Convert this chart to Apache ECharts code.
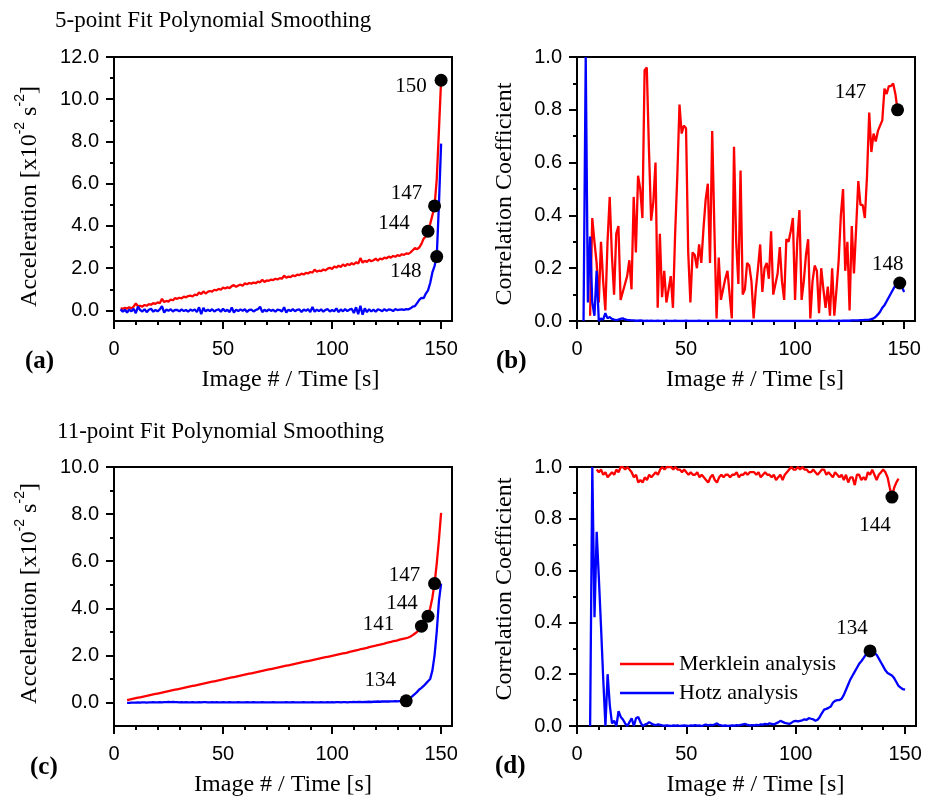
<!DOCTYPE html>
<html><head><meta charset="utf-8">
<script src="https://cdn.jsdelivr.net/npm/echarts@6/dist/echarts.min.js"></script>
<style>html,body{margin:0;padding:0;background:#fff}#c{width:925px;height:798px}</style>
</head><body><div id="c"></div>
<script>
// ---------- DATA ----------
// Panel (a): 5-point fit, acceleration
const aStart = 3;
const aMerklein = [0.10,0.08,0.12,0.09,0.15,0.10,0.18,0.33,0.20,0.22,
 0.18,0.26,0.22,0.30,0.27,0.35,0.31,0.38,0.34,0.55,
 0.40,0.45,0.42,0.52,0.48,0.58,0.55,0.60,0.57,0.65,
 0.62,0.68,0.70,0.66,0.75,0.72,0.85,0.78,0.90,0.80,
 0.88,0.92,0.89,0.98,0.95,1.02,0.98,1.08,1.04,1.10,
 1.06,1.15,1.20,1.12,1.18,1.22,1.17,1.28,1.24,1.30,
 1.27,1.32,1.29,1.36,1.33,1.45,1.35,1.42,1.40,1.46,
 1.44,1.50,1.47,1.53,1.50,1.65,1.55,1.60,1.58,1.66,
 1.62,1.70,1.67,1.74,1.70,1.78,1.75,1.82,1.79,1.93,
 1.84,1.88,1.86,1.94,1.90,1.98,2.02,1.96,2.08,2.03,
 2.12,2.06,2.18,2.10,2.20,2.15,2.24,2.18,2.28,2.22,
 2.48,2.26,2.35,2.30,2.40,2.33,2.38,2.45,2.36,2.46,
 2.42,2.50,2.47,2.55,2.50,2.58,2.54,2.62,2.58,2.66,
 2.63,2.70,2.68,2.75,2.85,2.95,2.90,2.98,3.15,3.40,
 3.50,3.75,4.10,4.50,4.95,6.20,8.50,10.90];
const aHotz = [0.05,-0.06,0.03,-0.10,0.04,-0.04,0.08,-0.13,0.18,0.02,
 -0.05,0.06,-0.08,0.03,0.08,-0.06,0.02,-0.04,0.05,0.20,
 -0.10,0.04,-0.02,0.06,-0.05,0.03,0.02,-0.04,0.05,-0.03,
 0.02,-0.06,0.04,-0.02,0.05,-0.08,0.15,-0.18,0.12,-0.05,
 0.04,-0.03,0.06,-0.05,0.02,0.05,-0.06,0.08,-0.04,0.03,
 -0.08,0.14,-0.10,0.04,-0.03,0.05,-0.02,0.06,-0.07,0.03,
 0.04,-0.05,0.02,0.06,0.18,-0.08,0.03,-0.04,0.05,-0.02,
 0.03,-0.06,0.04,0.02,-0.05,0.15,-0.10,0.04,-0.03,0.06,
 -0.04,0.03,0.05,-0.07,0.04,-0.02,0.06,-0.08,0.16,-0.06,
 0.04,-0.03,0.05,-0.06,0.03,0.06,-0.05,0.02,-0.04,0.10,
 -0.08,0.05,-0.04,0.06,-0.03,0.04,0.08,-0.12,0.15,-0.18,
 0.22,-0.20,0.10,-0.08,0.06,-0.05,0.04,-0.06,0.05,0.02,
 -0.04,0.06,-0.02,0.05,0.03,-0.03,0.06,0.02,0.04,0.05,
 0.03,0.06,0.05,0.10,0.18,0.20,0.35,0.50,0.60,0.58,
 0.80,0.95,1.30,1.80,2.10,2.55,5.00,7.90];

// Panel (b): 5-point fit, correlation coefficient
const bMerkleinStart = 6;
const bMerklein = [0.02,0.39,0.30,0.22,0.07,0.30,0.15,0.04,0.30,0.47,
 0.25,0.10,0.33,0.36,0.08,0.11,0.14,0.17,0.23,0.12,
 0.47,0.26,0.55,0.50,0.39,0.95,0.96,0.65,0.38,0.45,
 0.60,0.05,0.33,0.09,0.19,0.07,0.12,0.17,0.05,0.33,
 0.55,0.82,0.71,0.74,0.73,0.26,0.07,0.26,0.25,0.20,
 0.29,0.22,0.35,0.46,0.52,0.22,0.72,0.35,0.01,0.24,
 0.08,0.12,0.16,0.19,0.10,0.01,0.66,0.30,0.14,0.57,
 0.10,0.12,0.22,0.21,0.15,0.01,0.12,0.20,0.29,0.11,
 0.20,0.22,0.16,0.34,0.10,0.14,0.18,0.28,0.15,0.08,
 0.31,0.30,0.34,0.39,0.08,0.30,0.42,0.08,0.15,0.25,
 0.31,0.01,0.15,0.21,0.19,0.03,0.20,0.12,0.05,0.13,
 0.02,0.20,0.02,0.12,0.23,0.40,0.50,0.19,0.30,0.04,
 0.36,0.18,0.35,0.53,0.44,0.44,0.39,0.55,0.79,0.64,
 0.71,0.68,0.72,0.74,0.76,0.88,0.86,0.89,0.89,0.90,
 0.86,0.80];
const bHotzStart = 3;
const bHotz = [0,1.0,0.07,0.32,0.07,0.02,0.19,0,0.01,0.005,
 0.03,0.01,0.015,0.008,0.005,0.003,0.005,0.008,0.01,0.006,
 0.004,0.003,0.002,0.002,0.001,0.001,0.002,0.001,0,0.001,
 0,0.001,0,0,0.001,0,0,0,0.001,0,
 0,0,0.001,0,0,0,0,0.001,0,0,
 0,0,0,0.001,0,0,0,0,0,0,
 0,0,0,0,0.001,0,0,0,0,0,
 0,0,0,0,0,0,0,0,0,0,
 0,0,0,0,0,0,0,0,0,0,
 0,0,0,0,0,0,0,0,0,0,
 0,0,0,0,0,0,0,0,0.001,0,
 0,0,0,0.001,0,0,0,0.001,0,0.001,
 0.001,0.001,0.001,0.002,0.002,0.002,0.002,0.003,0.003,0.004,
 0.004,0.005,0.007,0.01,0.016,0.025,0.035,0.05,0.06,0.075,
 0.09,0.105,0.12,0.135,0.14,0.144,0.13,0.11];

// Panel (c): 11-point fit, acceleration
const cStart = 6;
const cMerklein = [0.10,0.12,0.14,0.16,0.18,0.20,0.22,0.24,0.26,0.28,
 0.30,0.32,0.34,0.36,0.38,0.40,0.42,0.44,0.46,0.48,
 0.50,0.52,0.54,0.56,0.58,0.60,0.62,0.64,0.66,0.68,
 0.70,0.72,0.74,0.76,0.78,0.80,0.82,0.84,0.86,0.88,
 0.90,0.92,0.94,0.96,0.98,1.00,1.02,1.04,1.06,1.08,
 1.10,1.12,1.14,1.16,1.18,1.20,1.22,1.24,1.26,1.28,
 1.30,1.32,1.34,1.36,1.38,1.40,1.42,1.44,1.46,1.48,
 1.50,1.52,1.54,1.56,1.58,1.60,1.62,1.64,1.66,1.68,
 1.70,1.72,1.74,1.76,1.78,1.80,1.82,1.84,1.86,1.88,
 1.90,1.92,1.94,1.96,1.98,2.00,2.02,2.04,2.06,2.08,
 2.10,2.12,2.15,2.17,2.19,2.21,2.23,2.26,2.28,2.30,
 2.32,2.35,2.37,2.39,2.41,2.44,2.46,2.48,2.50,2.53,
 2.55,2.57,2.60,2.62,2.64,2.67,2.69,2.71,2.73,2.76,
 2.80,2.86,2.93,3.00,3.10,3.24,3.36,3.50,3.66,4.00,
 4.45,5.05,5.90,6.90,8.05];
const cHotz = [-0.02,-0.02,-0.01,-0.01,-0.01,0.00,-0.01,0.00,0.00,-0.01,
 0.00,0.00,0.01,0.00,0.00,0.01,0.00,0.01,0.01,0.02,
 0.01,0.02,0.01,0.01,0.00,0.01,0.00,0.01,0.00,0.00,
 0.01,0.00,0.00,0.01,0.00,0.01,0.01,0.00,0.00,0.01,
 0.00,0.01,0.00,0.00,0.01,0.00,0.00,0.01,0.00,0.00,
 0.00,0.01,0.00,0.00,0.00,0.01,0.00,0.00,0.01,0.00,
 0.00,0.00,0.01,0.00,0.00,0.00,0.00,0.01,0.00,0.00,
 0.00,0.00,0.00,0.01,0.00,0.00,0.01,0.00,0.00,0.00,
 0.00,0.01,0.00,0.00,0.00,0.01,0.00,0.00,0.00,0.01,
 0.00,0.00,0.01,0.00,0.01,0.00,0.01,0.01,0.00,0.01,
 0.01,0.00,0.01,0.01,0.02,0.01,0.02,0.02,0.01,0.02,
 0.02,0.03,0.02,0.03,0.03,0.04,0.03,0.04,0.04,0.05,
 0.04,0.05,0.05,0.06,0.05,0.06,0.06,0.06,0.07,0.12,
 0.20,0.28,0.36,0.45,0.55,0.62,0.70,0.80,0.90,1.00,
 1.35,2.00,3.00,4.30,5.05];

// Panel (d): 11-point fit, correlation coefficient
const dMerkleinStart = 9;
const dMerklein = [0.99,0.98,0.99,0.97,0.98,0.96,0.97,0.98,0.97,0.99,
 0.98,1.00,1.00,0.99,1.00,0.99,0.98,0.96,0.97,0.94,
 0.95,0.94,0.96,0.95,0.97,0.96,0.97,0.98,0.97,0.99,
 1.00,0.99,1.00,1.00,1.00,0.99,1.00,0.99,0.99,0.98,
 0.99,0.98,0.97,0.98,0.97,0.97,0.98,0.96,0.97,0.96,
 0.95,0.94,0.96,0.97,0.95,0.94,0.96,0.97,0.96,0.97,
 0.97,0.96,0.97,0.97,0.98,0.96,0.97,0.97,0.98,0.97,
 0.98,0.98,0.98,0.97,0.98,0.96,0.97,0.98,0.97,0.97,
 0.96,0.97,0.95,0.96,0.97,0.95,0.97,0.98,0.99,1.00,
 0.99,0.99,1.00,0.99,1.00,0.99,0.99,0.98,0.98,0.99,
 0.98,0.97,0.98,0.99,0.99,0.97,0.98,0.97,0.96,0.98,
 0.97,0.96,0.97,0.95,0.97,0.94,0.96,0.96,0.93,0.97,
 0.97,0.95,0.96,0.95,0.98,0.97,0.99,0.97,0.95,0.97,
 0.98,0.99,0.98,0.96,0.92,0.884,0.92,0.94,0.955];
const dHotzStart = 6;
const dHotz = [0.0,1.0,0.42,0.75,0.57,0.38,0.18,0.0,0.20,0.08,
 0.01,0.02,0.0,0.057,0.035,0.025,0.01,0.0,0.015,0.03,
 0.0,0.03,0.035,0.015,0.0,0.005,0.008,0.015,0.01,0.005,
 0.003,0.006,0.004,0.002,0.001,0.002,0.001,0.0,0.002,0.001,
 0.002,0.0,0.001,0.002,0.001,0.0,0.002,0.001,0.003,0.001,
 0.002,0.0,0.003,0.005,0.002,0.004,0.003,0.006,0.01,0.004,
 0.002,0.001,0.002,0.0,0.001,0.002,0.001,0.003,0.002,0.004,
 0.006,0.008,0.004,0.002,0.003,0.002,0.004,0.003,0.006,0.005,
 0.008,0.006,0.01,0.008,0.006,0.01,0.014,0.02,0.016,0.012,
 0.01,0.008,0.012,0.018,0.02,0.018,0.02,0.022,0.026,0.024,
 0.03,0.028,0.026,0.02,0.024,0.035,0.05,0.063,0.066,0.07,
 0.075,0.09,0.097,0.1,0.1,0.105,0.12,0.14,0.16,0.18,
 0.195,0.21,0.225,0.24,0.25,0.262,0.275,0.285,0.29,0.29,
 0.282,0.275,0.26,0.245,0.23,0.215,0.205,0.2,0.195,0.185,
 0.17,0.155,0.148,0.142,0.14];

// Highlighted image numbers (series, image #)
const markersA = [['M',150],['M',147],['M',144],['H',148]];
const markersB = [['M',147],['H',148]];
const markersC = [['M',147],['M',144],['M',141],['H',134]];
const markersD = [['M',144],['H',134]];

// Tick values
const xTicks = [0,50,100,150];
const xMinor = [10,20,30,40,60,70,80,90,110,120,130,140];
const yTicksA = [0,2,4,6,8,10,12];
const yMinorA = [1,3,5,7,9,11];
const yTicksC = [0,2,4,6,8,10];
const yMinorC = [1,3,5,7,9];
const yTicksCorr = [0,0.2,0.4,0.6,0.8,1.0];
const yMinorCorr = [0.1,0.3,0.5,0.7,0.9];

const seriesNames = ['Merklein analysis','Hotz analysis'];
const titles = ['5-point Fit Polynomial Smoothing','11-point Fit Polynomial Smoothing'];
const panelLetters = ['(a)','(b)','(c)','(d)'];

// ---------- LAYOUT / STYLE ----------
const SERIF = "'Liberation Serif','Times New Roman',serif";
const SANS = "'Liberation Sans',Arial,sans-serif";
const RED = '#ff0000', BLUE = '#0000ff';

const panels = [
  {grid:{left:114,top:57,width:338,height:264}, ymin:-0.5, ymax:12, yt:yTicksA, ym:yMinorA, acc:true,
   M:[aStart,aMerklein], H:[aStart,aHotz], marks:markersA,
   off:{150:[-30,6],147:[-28,-12],144:[-34,-8],148:[-31,15]}, xpad:15, ypad:[0,15,0,0], ygap:67},
  {grid:{left:577,top:57,width:338,height:264}, ymin:0, ymax:1, yt:yTicksCorr, ym:yMinorCorr, acc:false,
   M:[bMerkleinStart,bMerklein], H:[bHotzStart,bHotz], marks:markersB,
   off:{147:[-47,-17],148:[-12,-18]}, xpad:18, ypad:[0,10,0,0], ygap:60},
  {grid:{left:114,top:467,width:338,height:263}, ymin:-1, ymax:10, yt:yTicksC, ym:yMinorC, acc:true,
   M:[cStart,cMerklein], H:[cStart,cHotz], marks:markersC,
   off:{147:[-30,-8],144:[-26,-13],141:[-43,-2],134:[-26,-20]}, xpad:0, ypad:[0,0,0,6], ygap:67},
  {grid:{left:577,top:467,width:339,height:263}, ymin:0, ymax:1, yt:yTicksCorr, ym:yMinorCorr, acc:false,
   M:[dMerkleinStart,dMerklein], H:[dHotzStart,dHotz], marks:markersD,
   off:{144:[-17,28],134:[-18,-22]}, xpad:18, ypad:[0,0,0,15], ygap:60}
];

function pairs(start, arr){ return arr.map((v,i)=>[start+i, v]); }

const grid=[], xAxis=[], yAxis=[], series=[];
const black = {color:'#000', width:2};

panels.forEach((p, i) => {
  grid.push(Object.assign({show:true, borderColor:'#000', borderWidth:2, backgroundColor:'transparent'}, p.grid));
  xAxis.push({type:'value', gridIndex:i, min:0, max:155, position:'bottom',
    axisLine:{onZero:false, lineStyle:black},
    axisTick:{show:true, inside:false, length:8, lineStyle:black, customValues:xTicks},
    axisLabel:{customValues:xTicks, margin:18, color:'#000', fontFamily:SANS, fontSize:20, formatter:v=>String(v)},
    splitLine:{show:false},
    name:'Image # / Time [s]', nameLocation:'middle', nameGap:47,
    nameTextStyle:{fontFamily:SERIF, fontSize:24, color:'#000', padding:[0,0,0,p.xpad]}
  });
  xAxis.push({type:'value', gridIndex:i, min:0, max:155, position:'bottom',
    axisLine:{show:false, onZero:false},
    axisTick:{show:true, inside:false, length:4, lineStyle:black, customValues:xMinor},
    axisLabel:{show:false}, splitLine:{show:false}
  });
  const yName = p.acc ? '{n|Acceleration [x10}{s|-2}{n| s}{s|-2}{n|]}' : '{n|Correlation Coefficient}';
  yAxis.push({type:'value', gridIndex:i, min:p.ymin, max:p.ymax, position:'left',
    axisLine:{onZero:false, lineStyle:black},
    axisTick:{show:true, inside:false, length:8, lineStyle:black, customValues:p.yt},
    axisLabel:{customValues:p.yt, margin:15, color:'#000', fontFamily:SANS, fontSize:20, formatter:v=>v.toFixed(1)},
    splitLine:{show:false},
    name:yName, nameLocation:'middle', nameRotate:90, nameGap:p.ygap,
    nameTextStyle:{padding:p.ypad, rich:{
      n:{fontFamily:SERIF, fontSize:24, color:'#000', lineHeight:p.acc?34:24},
      s:{fontFamily:SANS, fontSize:14, color:'#000', lineHeight:16, verticalAlign:'top'}
    }}
  });
  yAxis.push({type:'value', gridIndex:i, min:p.ymin, max:p.ymax, position:'left',
    axisLine:{show:false, onZero:false},
    axisTick:{show:true, inside:false, length:4, lineStyle:black, customValues:p.ym},
    axisLabel:{show:false}, splitLine:{show:false}
  });
  const lineCommon = {type:'line', xAxisIndex:2*i, yAxisIndex:2*i, symbol:'none', showSymbol:false, animation:false, z:3};
  series.push(Object.assign({name:seriesNames[0], data:pairs(p.M[0], p.M[1]), lineStyle:{color:RED, width:2.3}, itemStyle:{color:RED}}, lineCommon));
  series.push(Object.assign({name:seriesNames[1], data:pairs(p.H[0], p.H[1]), lineStyle:{color:BLUE, width:2.3}, itemStyle:{color:BLUE}}, lineCommon));
  const dots = p.marks.map(([s, img]) => {
    const src = s === 'M' ? p.M : p.H;
    const o = p.off[img];
    return {value:[img, src[1][img - src[0]]], label:{offset:o}};
  });
  series.push({type:'scatter', name:'marks'+i, xAxisIndex:2*i, yAxisIndex:2*i, data:dots,
    symbol:'circle', symbolSize:13, itemStyle:{color:'#000', opacity:1}, z:5, animation:false, silent:true,
    label:{show:true, position:'inside', align:'center', verticalAlign:'middle', opacity:1,
      fontFamily:SERIF, fontSize:21, color:'#000', textBorderWidth:0, formatter:q=>String(q.value[0])}
  });
});

const graphic = [
  {type:'text', left:55, top:9, style:{text:titles[0], font:'23px '+SERIF, fill:'#000'}},
  {type:'text', left:57, top:420, style:{text:titles[1], font:'23px '+SERIF, fill:'#000'}},
  {type:'text', left:25, top:349, style:{text:panelLetters[0], font:'bold 25px '+SERIF, fill:'#000'}},
  {type:'text', left:496, top:349, style:{text:panelLetters[1], font:'bold 25px '+SERIF, fill:'#000'}},
  {type:'text', left:30, top:755, style:{text:panelLetters[2], font:'bold 25px '+SERIF, fill:'#000'}},
  {type:'text', left:495, top:754, style:{text:panelLetters[3], font:'bold 25px '+SERIF, fill:'#000'}}
];

const chart = echarts.init(document.getElementById('c'), null, {renderer:'canvas'});
chart.setOption({
  animation:false,
  backgroundColor:'#fff',
  grid, xAxis, yAxis, series, graphic,
  legend:{data:seriesNames.map(n=>({name:n, icon:'rect'})), orient:'vertical', left:615, top:648,
    itemWidth:54, itemHeight:2.5, itemGap:7,
    selectedMode:false, textStyle:{fontFamily:SERIF, fontSize:22, color:'#000'}}
});
</script></body></html>
